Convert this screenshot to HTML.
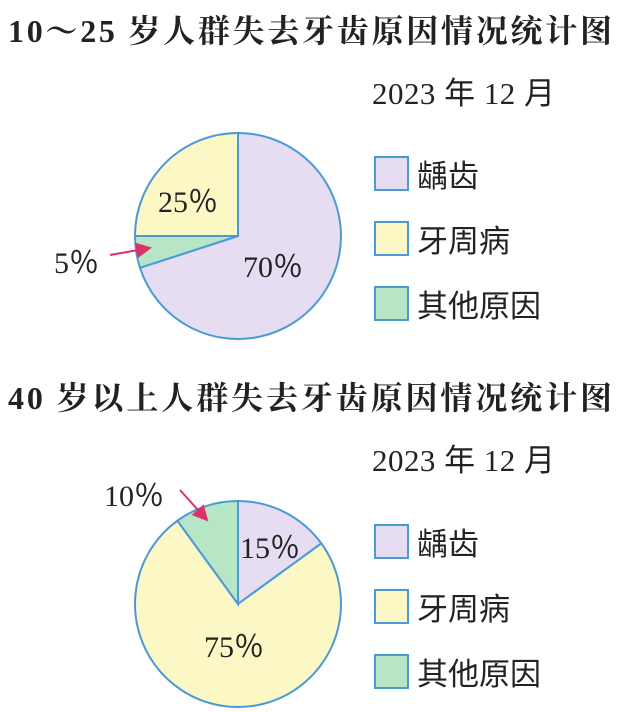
<!DOCTYPE html>
<html><head><meta charset="utf-8"><style>
html,body{margin:0;padding:0;background:#fff;}
svg{display:block}
</style></head><body>
<svg width="628" height="712" viewBox="0 0 628 712" xmlns="http://www.w3.org/2000/svg">
<defs><marker id="ah" markerWidth="8" markerHeight="8" refX="7" refY="4" orient="auto"><path d="M0,0 L8,4 L0,8 z" fill="#e0306a"/></marker></defs>
<g font-family="'Liberation Serif','Noto Serif CJK SC',serif" fill="#222">
<text x="8" y="42" font-size="32" font-weight="bold" textLength="604" lengthAdjust="spacing">10～25 岁人群失去牙齿原因情况统计图</text>
<text x="372" y="104" font-size="31" textLength="183" lengthAdjust="spacing" font-family="'Liberation Serif','Noto Sans CJK SC',serif">2023 年 12 月</text>
<text x="8" y="409" font-size="32" font-weight="bold" textLength="604" lengthAdjust="spacing">40 岁以上人群失去牙齿原因情况统计图</text>
<text x="372" y="471" font-size="31" textLength="183" lengthAdjust="spacing" font-family="'Liberation Serif','Noto Sans CJK SC',serif">2023 年 12 月</text>
</g>
<g stroke="#4a9ad6" stroke-width="2">
<path d="M238,236 L238,133 A103,103 0 1 1 140,267.8 Z" fill="#e6ddf3"/>
<path d="M238,236 L140,267.8 A103,103 0 0 1 135,236 Z" fill="#b7e6c6"/>
<path d="M238,236 L135,236 A103,103 0 0 1 238,133 Z" fill="#fbf8c6"/>
<path d="M238,604 L238,501 A103,103 0 0 1 321.3,543.4 Z" fill="#e6ddf3"/>
<path d="M238,604 L321.3,543.4 A103,103 0 1 1 177.4,520.7 Z" fill="#fbf8c6"/>
<path d="M238,604 L177.4,520.7 A103,103 0 0 1 238,501 Z" fill="#b7e6c6"/>
<rect x="375" y="157" width="33" height="33" fill="#e6ddf3"/>
<rect x="375" y="222" width="33" height="33" fill="#fbf8c6"/>
<rect x="375" y="287" width="33" height="33" fill="#b7e6c6"/>
<rect x="375" y="525" width="33" height="33" fill="#e6ddf3"/>
<rect x="375" y="590" width="33" height="33" fill="#fbf8c6"/>
<rect x="375" y="655" width="33" height="33" fill="#b7e6c6"/>
</g>
<line x1="110" y1="255" x2="150" y2="248" stroke="#e0306a" stroke-width="2" marker-end="url(#ah)"/>
<line x1="180" y1="490" x2="207" y2="520" stroke="#e0306a" stroke-width="2" marker-end="url(#ah)"/>
<g font-family="'Liberation Serif','Noto Sans CJK SC',serif" fill="#222" font-size="30">
<text x="158" y="212">25％</text>
<text x="243" y="277">70％</text>
<text x="54" y="273">5％</text>
<text x="240" y="558">15％</text>
<text x="204" y="657">75％</text>
<text x="104" y="506">10％</text>
</g>
<g font-family="'Liberation Serif','Noto Sans CJK SC',serif" fill="#222" font-size="31">
<text x="417" y="187">龋齿</text>
<text x="417" y="252">牙周病</text>
<text x="417" y="317">其他原因</text>
<text x="417" y="555">龋齿</text>
<text x="417" y="620">牙周病</text>
<text x="417" y="685">其他原因</text>
</g>
</svg>
</body></html>
